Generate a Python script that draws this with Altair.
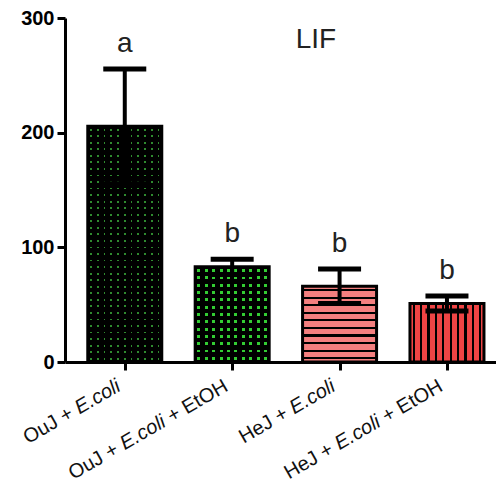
import altair as alt
import pandas as pd

# ---------------- data ----------------
groups = ["OuJ + E.coli", "OuJ + E.coli + EtOH", "HeJ + E.coli", "HeJ + E.coli + EtOH"]
means = [205.5, 83.0, 66.0, 51.0]
errors = [50.0, 6.7, 15.0, 6.5]
letters = ["a", "b", "b", "b"]
y_ticks = [0, 100, 200, 300]
title_text = "LIF"

df = pd.DataFrame({
    "idx": list(range(len(groups))),
    "group": groups,
    "mean": means,
    "err": errors,
    "letter": letters,
})
df["hi"] = df["mean"] + df["err"]
df["lo"] = df["mean"] - df["err"]

# ---------------- layout / style ----------------
W, H = 431, 344
FONT = "Liberation Sans"
xs = alt.Scale(domain=[-0.51, 3.41], nice=False, zero=False)
ys = alt.Scale(domain=[0, 300], nice=False)
BAR_W = 74


def stripes(base, line, n, frac, horizontal_lines):
    """Hard-edged gradient making n stripes of colour `line` on `base`."""
    stops = [{"offset": 0, "color": base}]
    for i in range(n):
        s = (i + 0.5 - frac / 2) / n
        e = (i + 0.5 + frac / 2) / n
        stops += [{"offset": s, "color": base}, {"offset": s, "color": line},
                  {"offset": e, "color": line}, {"offset": e, "color": base}]
    stops.append({"offset": 1, "color": base})
    g = {"gradient": "linear", "stops": stops, "x1": 0, "y1": 0, "x2": 0, "y2": 0}
    if horizontal_lines:
        g["y2"] = 1
    else:
        g["x2"] = 1
    return g


CLEAR = "rgba(0,0,0,0)"
x_enc = alt.X("idx:Q", scale=xs,
              axis=alt.Axis(values=[0, 1, 2, 3], labels=False, tickSize=8, tickWidth=3,
                            domainWidth=3, domainColor="black", tickColor="black",
                            title=None, grid=False))
y_enc = alt.Y("mean:Q", scale=ys,
              axis=alt.Axis(values=y_ticks, labelFont=FONT, labelFontWeight="bold",
                            labelFontSize=20, labelColor="black", tickSize=8, tickWidth=3,
                            domainWidth=3, domainColor="black", tickColor="black",
                            labelPadding=3, title=None, grid=False))

base = alt.Chart(df)
layers = []

# bar fills (pattern approximations)
fills = [
    [stripes("#000000", "#2f8a2f", 11, 0.25, False), stripes("#000000", CLEAR, 36, 0.28, True)],
    [stripes("#000000", "#33cc33", 10, 0.42, False), stripes("#000000", CLEAR, 13, 0.40, True)],
    [stripes("#f47f7f", "#000000", 10, 0.28, True)],
    [stripes("#ee4444", "#000000", 10, 0.28, False)],
]
for i, fl in enumerate(fills):
    for k, f in enumerate(fl):
        last = k == len(fl) - 1
        props = dict(size=BAR_W, fill=f)
        if last:
            props.update(stroke="black", strokeWidth=3)
        else:
            props.update(strokeWidth=0)
        layers.append(
            base.transform_filter(f"datum.idx == {i}").mark_bar(**props).encode(x=x_enc, y=y_enc)
        )

# error bars
layers.append(base.mark_rule(color="black", strokeWidth=4).encode(
    x=alt.X("idx:Q", scale=xs), y=alt.Y("lo:Q", scale=ys), y2="hi:Q"))
for col in ["hi", "lo"]:
    layers.append(base.mark_rule(color="black", strokeWidth=5, xOffset=-21.5, x2Offset=21.5).encode(
        x=alt.X("idx:Q", scale=xs), x2="idx:Q", y=alt.Y(f"{col}:Q", scale=ys)))

# significance letters
layers.append(base.mark_text(font=FONT, fontSize=28, baseline="alphabetic", dy=-17, color="#222").encode(
    x=alt.X("idx:Q", scale=xs), y=alt.Y("hi:Q", scale=ys), text="letter:N"))

# panel title
layers.append(alt.Chart(pd.DataFrame({"t": [title_text]})).mark_text(
    font=FONT, fontSize=28, baseline="alphabetic", color="#222").encode(
    x=alt.value(251), y=alt.value(30), text="t:N"))

# x tick labels with italic "E.coli" (Arial / Liberation metrics)
ADV = {' ': 278, '+': 584, 'O': 778, 'u': 556, 'J': 500, 'H': 722, 'e': 556, 'E': 667,
       't': 278, '.': 278, 'c': 500, 'o': 556, 'l': 222, 'i': 222}
LFS = 20


def tw(s):
    return sum(ADV.get(ch, 556) for ch in s) * LFS / 1000.0


for i, g in enumerate(groups):
    pre, post = g.split("E.coli")
    segs = [(pre, "normal"), ("E.coli", "italic"), (post, "normal")]
    cursor = 0.0
    for text, style in reversed(segs):
        if not text:
            continue
        cursor += (len(text) - len(text.rstrip())) * tw(" ")
        core = text.strip()
        if core:
            layers.append(alt.Chart(pd.DataFrame({"idx": [i], "t": [core]})).mark_text(
                font=FONT, fontSize=LFS, fontStyle=style, angle=330, align="right",
                baseline="alphabetic", dx=-cursor, xOffset=-3, color="#111").encode(
                x=alt.X("idx:Q", scale=xs), y=alt.value(H + 28), text="t:N"))
            cursor += tw(core)
        cursor += (len(text) - len(text.lstrip())) * tw(" ")

chart = alt.layer(*layers).properties(
    width=W, height=H,
    autosize=alt.AutoSizeParams(type="none"),
    padding={"left": 57, "top": 10, "right": 0, "bottom": 130},
).configure_view(stroke=None)

chart.save("out.html", embed_options={"renderer": "svg", "actions": False})
